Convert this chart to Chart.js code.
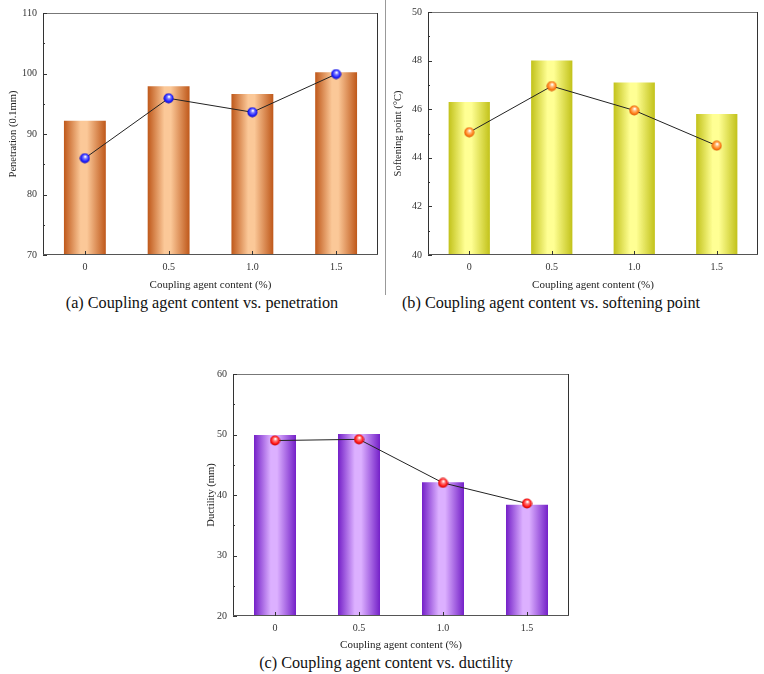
<!DOCTYPE html>
<html>
<head>
<meta charset="utf-8">
<script src="https://cdn.jsdelivr.net/npm/chart.js@4.4.1/dist/chart.umd.min.js"></script>
<style>
  html, body { margin: 0; padding: 0; background: #fff; }
  body { width: 764px; height: 674px; position: relative; overflow: hidden; font-family: "Liberation Serif", "DejaVu Serif", serif; }
  .box { position: absolute; }
  .cap { position: absolute; font-size: 16.2px; color: #111; white-space: nowrap; transform: translate(-50%, -50%); }
  #sep { position: absolute; left: 385px; top: 0; width: 1px; height: 295px; background: #999; }
</style>
</head>
<body>
<div class="box" id="boxA" style="left:0;top:0;width:385px;height:292px"><canvas id="chartA"></canvas></div>
<div class="box" id="boxB" style="left:385px;top:0;width:379px;height:292px"><canvas id="chartB"></canvas></div>
<div class="box" id="boxC" style="left:190px;top:330px;width:390px;height:322px"><canvas id="chartC"></canvas></div>
<div id="sep"></div>
<div class="cap" style="left:202px;top:303px">(a) Coupling agent content vs. penetration</div>
<div class="cap" style="left:551px;top:303px">(b) Coupling agent content vs. softening point</div>
<div class="cap" style="left:386px;top:663px">(c) Coupling agent content vs. ductility</div>

<script>
// data
const contents = ["0", "0.5", "1.0", "1.5"];

const penetrationBars = [92.2, 97.9, 96.6, 100.2];
const penetrationLine = [86.0, 95.9, 93.6, 99.9];

const softeningBars = [46.3, 48.0, 47.1, 45.8];
const softeningLine = [45.05, 46.95, 45.95, 44.5];

const ductilityBars = [49.9, 50.1, 42.1, 38.4];
const ductilityLine = [49.0, 49.2, 42.0, 38.6];

const xTitle = "Coupling agent content (%)";
const FONT = "'Liberation Serif', 'DejaVu Serif', serif";

// sphere-looking marker drawn once into a small canvas
function sphere(dark, mid, light) {
  const c = document.createElement("canvas");
  c.width = 11; c.height = 11;
  const g = c.getContext("2d");
  const rg = g.createRadialGradient(6, 3.8, 0.5, 5.5, 5.5, 5.5);
  rg.addColorStop(0, "#ffffff");
  rg.addColorStop(0.25, light);
  rg.addColorStop(0.7, mid);
  rg.addColorStop(1, dark);
  g.fillStyle = rg;
  g.beginPath();
  g.arc(5.5, 5.5, 5, 0, Math.PI * 2);
  g.fill();
  return c;
}

function barGradient(edge, center) {
  return (ctx) => {
    const chart = ctx.chart;
    const xs = chart.scales.x;
    if (!chart.chartArea || !xs) return edge;
    const cx = xs.getPixelForValue(ctx.dataIndex);
    const w = (xs.width / contents.length) * 0.5;
    const g = chart.ctx.createLinearGradient(cx - w / 2, 0, cx + w / 2, 0);
    g.addColorStop(0, edge);
    g.addColorStop(0.4, center);
    g.addColorStop(0.55, center);
    g.addColorStop(1, edge);
    return g;
  };
}

// frame + inward ticks, like Origin plots
const framePlugin = {
  id: "frame",
  afterDatasetsDraw(chart) {
    const { ctx, chartArea: a, scales } = chart;
    ctx.save();
    ctx.lineWidth = 1;
    ctx.strokeStyle = "#777";
    ctx.beginPath();
    ctx.moveTo(a.left, a.top + 0.5); ctx.lineTo(a.right, a.top + 0.5);
    ctx.stroke();
    ctx.strokeStyle = "#333";
    ctx.beginPath();
    ctx.moveTo(a.left + 0.5, a.top); ctx.lineTo(a.left + 0.5, a.bottom);
    ctx.moveTo(a.right - 0.5, a.top); ctx.lineTo(a.right - 0.5, a.bottom);
    ctx.stroke();
    ctx.strokeStyle = "#555";
    ctx.beginPath();
    ctx.moveTo(a.left, a.bottom - 0.5); ctx.lineTo(a.right, a.bottom - 0.5);
    ctx.stroke();
    // y ticks
    const ys = scales.y;
    const step = chart.options.scales.y.ticks.stepSize;
    ctx.strokeStyle = "#333";
    ctx.beginPath();
    for (let v = ys.min; v <= ys.max + 1e-6; v += step / 2) {
      const py = Math.round(ys.getPixelForValue(v)) + 0.5;
      const major = Math.abs((v - ys.min) / step - Math.round((v - ys.min) / step)) < 1e-6;
      ctx.moveTo(a.left, py);
      ctx.lineTo(a.left + (major ? 4 : 2), py);
    }
    // x ticks
    const xs = scales.x;
    for (let i = 0; i < contents.length; i++) {
      const px = Math.round(xs.getPixelForValue(i)) + 0.5;
      ctx.moveTo(px, a.bottom);
      ctx.lineTo(px, a.bottom - 4);
    }
    ctx.stroke();
    ctx.restore();
  }
};

function makeChart(id, bars, line, cfg) {
  return new Chart(document.getElementById(id), {
    type: "bar",
    data: {
      labels: contents,
      datasets: [
        {
          type: "line",
          data: line,
          borderColor: "#222",
          borderWidth: 1,
          pointStyle: cfg.marker,
          pointRadius: 5,
          pointHoverRadius: 5,
          order: 0,
        },
        {
          type: "bar",
          data: bars,
          backgroundColor: barGradient(cfg.edge, cfg.center),
          borderWidth: 0,
          barPercentage: 0.5,
          categoryPercentage: 1.0,
          order: 1,
        },
      ],
    },
    options: {
      responsive: true,
      maintainAspectRatio: false,
      animation: false,
      events: [],
      layout: { padding: cfg.padding },
      plugins: { legend: { display: false }, tooltip: { enabled: false } },
      scales: {
        x: {
          grid: { display: false, drawTicks: false },
          border: { display: false },
          ticks: { color: "#333", font: { family: FONT, size: 10 }, padding: 6 },
          title: { display: true, text: xTitle, color: "#222", font: { family: FONT, size: 11 }, padding: { top: 3, bottom: 0 } },
          afterFit: (s) => { s.height = cfg.xHeight; },
        },
        y: {
          min: cfg.min,
          max: cfg.max,
          grid: { display: false, drawTicks: false },
          border: { display: false },
          ticks: { stepSize: cfg.step, color: "#333", font: { family: FONT, size: 10 }, padding: 6 },
          title: { display: true, text: cfg.yTitle, color: "#222", font: { family: FONT, size: 10.5 }, padding: { top: cfg.yTitlePad, bottom: 2 } },
          afterFit: (s) => { s.width = 43; },
        },
      },
    },
    plugins: [framePlugin],
  });
}

makeChart("chartA", penetrationBars, penetrationLine, {
  edge: "#bf581a", center: "#fbc898",
  marker: sphere("#0000a0", "#1a1aff", "#8080ff"),
  min: 70, max: 110, step: 10,
  yTitle: "Penetration (0.1mm)", yTitlePad: 7,
  padding: { top: 13, right: 7, left: 0, bottom: 0 },
  xHeight: 37,
});

makeChart("chartB", softeningBars, softeningLine, {
  edge: "#c2c21a", center: "#ffff94",
  marker: sphere("#c04000", "#ff7a10", "#ffc080"),
  min: 40, max: 50, step: 2,
  yTitle: "Softening point (°C)", yTitlePad: 7,
  padding: { top: 7, right: 2, left: 0, bottom: 0 },
  xHeight: 37,
});

makeChart("chartC", ductilityBars, ductilityLine, {
  edge: "#7420c8", center: "#dcb0ff",
  marker: sphere("#a00000", "#ff1010", "#ff8080"),
  min: 20, max: 60, step: 10,
  yTitle: "Ductility (mm)", yTitlePad: 15,
  padding: { top: 44, right: 11, left: 0, bottom: 0 },
  xHeight: 36,
});
</script>
</body>
</html>
